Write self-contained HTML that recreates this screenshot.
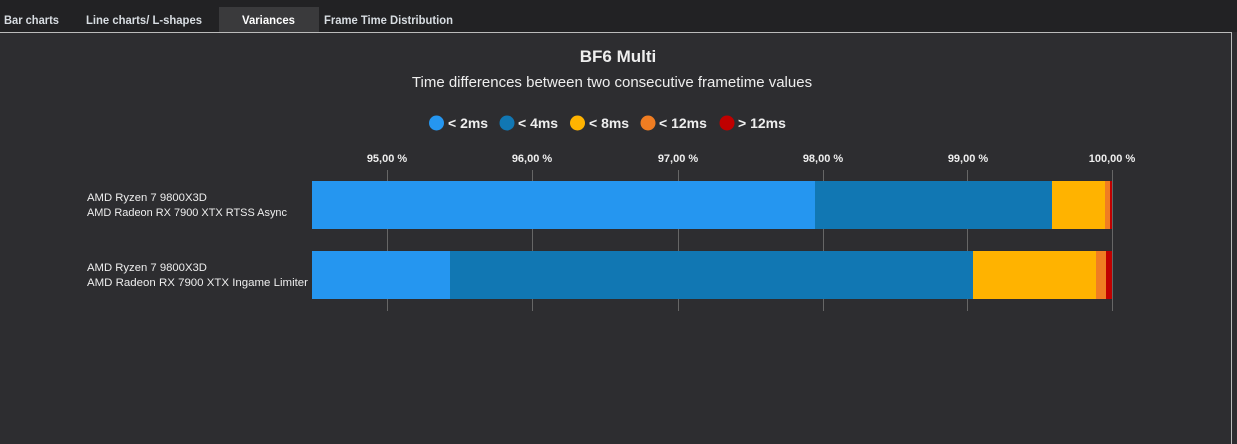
<!DOCTYPE html><html><head><style>
body{margin:0;background:#2d2d30;width:1237px;height:444px;overflow:hidden;font-family:"Liberation Sans",sans-serif}
</style></head><body>
<svg width="1237" height="444" xmlns="http://www.w3.org/2000/svg" style="display:block">
<rect width="1237" height="444" fill="#2d2d30"/>
<rect width="1237" height="32" fill="#222224"/>
<rect x="219" y="7" width="100" height="25" fill="#3a3a3c"/>
<line x1="0" y1="32.5" x2="1232" y2="32.5" stroke="#bbb" stroke-width="1"/>
<line x1="1231.5" y1="32" x2="1231.5" y2="444" stroke="#bbb" stroke-width="1"/>
<g font-size="12" font-weight="bold" fill="#d8dde2">
<text x="4" y="24" textLength="55" lengthAdjust="spacingAndGlyphs">Bar charts</text>
<text x="86" y="24" textLength="116" lengthAdjust="spacingAndGlyphs">Line charts/ L-shapes</text>
<text x="242" y="24" fill="#fff" textLength="53" lengthAdjust="spacingAndGlyphs">Variances</text>
<text x="324" y="24" textLength="129" lengthAdjust="spacingAndGlyphs">Frame Time Distribution</text>
</g>
<text x="618" y="62" text-anchor="middle" font-size="17" font-weight="bold" fill="#eee">BF6 Multi</text>
<text x="612" y="87" text-anchor="middle" font-size="15" fill="#eee">Time differences between two consecutive frametime values</text>
<g font-size="14" font-weight="bold" fill="#eee">
<circle cx="436.5" cy="123" r="7.5" fill="#2596f0"/><text x="448" y="128">&lt; 2ms</text>
<circle cx="507" cy="123" r="7.5" fill="#1177b3"/><text x="518" y="128">&lt; 4ms</text>
<circle cx="577.5" cy="123" r="7.5" fill="#ffb300"/><text x="589" y="128">&lt; 8ms</text>
<circle cx="648" cy="123" r="7.5" fill="#f07d22"/><text x="659" y="128">&lt; 12ms</text>
<circle cx="727" cy="123" r="7.5" fill="#c00000"/><text x="738" y="128">&gt; 12ms</text>
</g>
<g stroke="#666" stroke-width="1">
<line x1="387.5" y1="170" x2="387.5" y2="311"/><line x1="532.5" y1="170" x2="532.5" y2="311"/>
<line x1="678.5" y1="170" x2="678.5" y2="311"/><line x1="823.5" y1="170" x2="823.5" y2="311"/>
<line x1="967.5" y1="170" x2="967.5" y2="311"/><line x1="1112.5" y1="170" x2="1112.5" y2="311"/>
</g>
<g font-size="11" font-weight="bold" fill="#eee" text-anchor="middle">
<text x="387" y="162">95,00 %</text><text x="532" y="162">96,00 %</text><text x="678" y="162">97,00 %</text>
<text x="823" y="162">98,00 %</text><text x="968" y="162">99,00 %</text><text x="1112" y="162">100,00 %</text>
</g>
<rect x="312" y="181" width="503" height="48" fill="#2596f0"/>
<rect x="815" y="181" width="237" height="48" fill="#1177b3"/>
<rect x="1052" y="181" width="53" height="48" fill="#ffb300"/>
<rect x="1105" y="181" width="5" height="48" fill="#f07d22"/>
<rect x="1110" y="181" width="2" height="48" fill="#c00000"/>
<rect x="312" y="251" width="138" height="48" fill="#2596f0"/>
<rect x="450" y="251" width="523" height="48" fill="#1177b3"/>
<rect x="973" y="251" width="123" height="48" fill="#ffb300"/>
<rect x="1096" y="251" width="10" height="48" fill="#f07d22"/>
<rect x="1106" y="251" width="6" height="48" fill="#c00000"/>
<g font-size="11.3" fill="#eee">
<text x="87" y="201">AMD Ryzen 7 9800X3D</text><text x="87" y="216" textLength="200" lengthAdjust="spacingAndGlyphs">AMD Radeon RX 7900 XTX RTSS Async</text>
<text x="87" y="271">AMD Ryzen 7 9800X3D</text><text x="87" y="286" textLength="221" lengthAdjust="spacingAndGlyphs">AMD Radeon RX 7900 XTX Ingame Limiter</text>
</g>
</svg>
</body></html>
